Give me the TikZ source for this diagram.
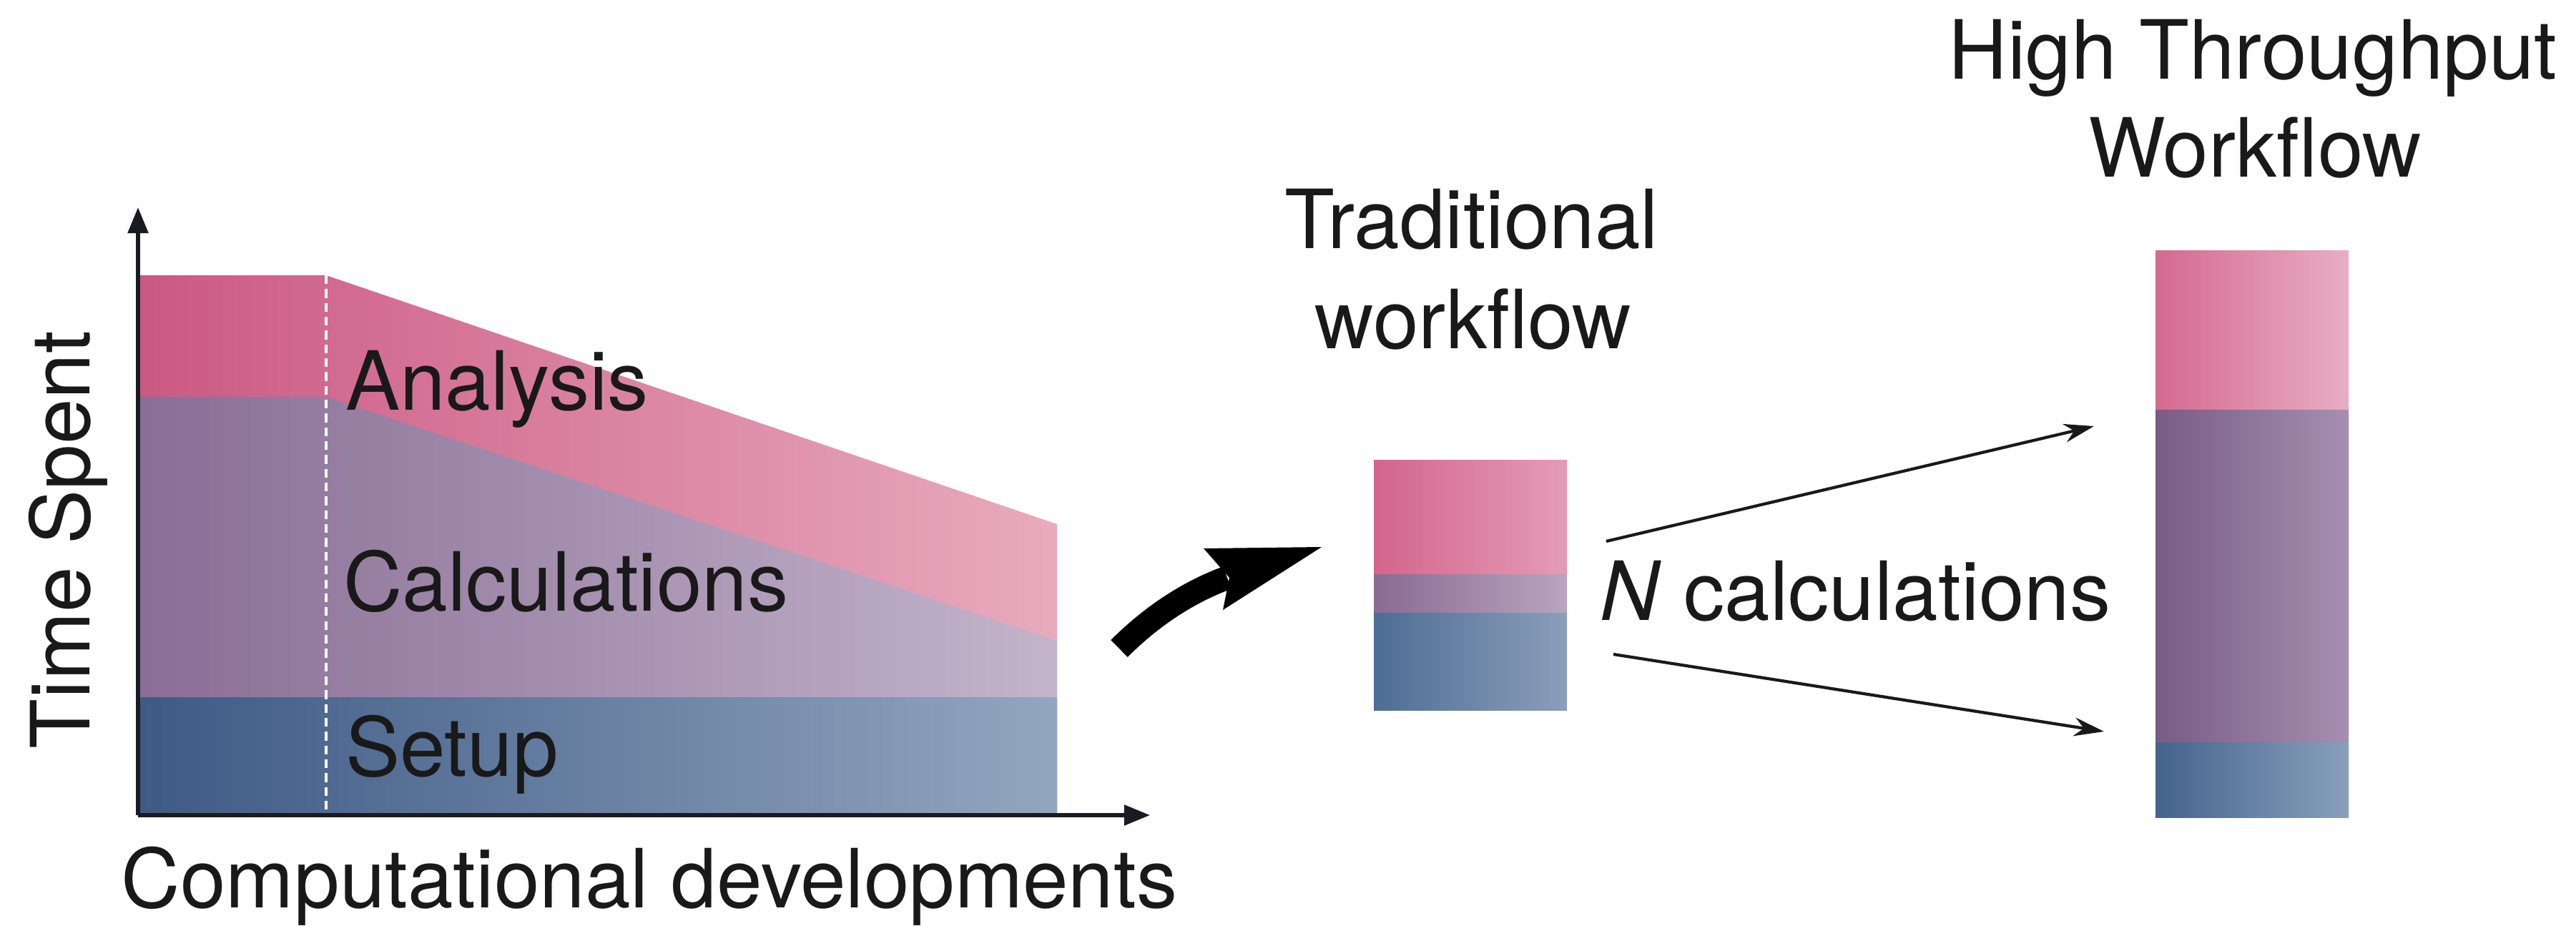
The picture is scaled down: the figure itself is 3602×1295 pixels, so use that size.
\documentclass[tikz,border=0pt]{standalone}
\usepackage{fontspec}
\setmainfont{TeX Gyre Heros}
\usetikzlibrary{arrows.meta}
\definecolor{pinkL}{HTML}{CB5982}
\definecolor{pinkR}{HTML}{E8ABBE}
\definecolor{purL}{HTML}{896E95}
\definecolor{purR}{HTML}{C3B4CB}
\definecolor{bluL}{HTML}{3E5A85}
\definecolor{bluR}{HTML}{93A6BF}
\definecolor{tpinkL}{HTML}{D3658D}
\definecolor{tpinkR}{HTML}{E49CB6}
\definecolor{tpurL}{HTML}{8A6A93}
\definecolor{tpurR}{HTML}{B8A5BF}
\definecolor{tbluL}{HTML}{4D6D95}
\definecolor{tbluR}{HTML}{8C9EBA}
\definecolor{hpinkL}{HTML}{D5698F}
\definecolor{hpinkR}{HTML}{E8AEC3}
\definecolor{hpurL}{HTML}{785C86}
\definecolor{hpurR}{HTML}{A58FAF}
\definecolor{hbluL}{HTML}{44638C}
\definecolor{hbluR}{HTML}{88A0BC}
\definecolor{axisc}{HTML}{1A1A22}
\begin{document}
\begin{tikzpicture}[x=0.01cm,y=-0.01cm,
  every node/.style={inner sep=0pt,outer sep=0pt,font=\fontsize{32.5pt}{39pt}\selectfont,text=black!90},
  axisline/.style={draw=axisc,line width=1.5pt,-{Triangle[length=0.36cm,width=0.28cm]}},
  thinarrow/.style={draw=black!90,line width=1.2pt,-{Stealth[length=0.42cm,width=0.26cm]}},
  bigarrow/.style={draw=black,line width=9.5pt},
  dashline/.style={draw=white,line width=1.4pt,dash pattern=on 3.5pt off 2pt}]
\useasboundingbox (0,0) rectangle (3602,1295);

% ---------- chart ----------
\shade[left color=pinkL,right color=pinkR] (193,385) -- (456,385) -- (1478,733) -- (1478,1138) -- (193,1138) -- cycle;
\shade[left color=purL,right color=purR] (193,555) -- (456,555) -- (1478,896) -- (1478,1138) -- (193,1138) -- cycle;
\shade[left color=bluL,right color=bluR] (193,976) rectangle (1478,1138);
\coordinate (dtop) at (456,385);
\coordinate (dbot) at (456,1136);
\draw[dashline] (dtop) -- (dbot);

\coordinate (O) at (193,1140);
\coordinate (ytip) at (193,290);
\coordinate (xtip) at (1608,1140);
\draw[axisline] (O) -- (ytip);
\draw[axisline] (O) -- (xtip);

\node[anchor=base west] (analysis) at (483,574) {Analysis};
\node[anchor=base west] (calcs) at (480,855) {Calculations};
\node[anchor=base west] (setup) at (483,1086) {Setup};
\node[anchor=base,rotate=90] (timespent) at (125,755) {Time Spent};
\node[anchor=base] (compdev) at (908,1270) {Computational developments};

% ---------- curved arrow ----------
\coordinate (ctail) at (1565,907);
\coordinate (chead) at (1716,808);
\draw[bigarrow] (ctail) .. controls (1612,860) and (1664,827) .. (chead);
\fill[black] (1683,767) -- (1848,765) -- (1710,853) -- (1719,808) -- cycle;

% ---------- traditional box ----------
\shade[left color=tpinkL,right color=tpinkR] (1921,644) rectangle (2191,804);
\shade[left color=tpurL,right color=tpurR] (1921,804) rectangle (2191,858);
\shade[left color=tbluL,right color=tbluR] (1921,858) rectangle (2191,994);
\node[anchor=base] (trad1) at (2058,348) {Traditional};
\node[anchor=base] (trad2) at (2060,488) {workflow};

% ---------- N calculations ----------
\node[anchor=base west] (ncalc) at (2237,868) {\textit{N} calculations};
\coordinate (ua) at (2246,757);
\coordinate (ub) at (2928,596);
\coordinate (la) at (2256,915);
\coordinate (lb) at (2942,1023);
\draw[thinarrow] (ua) -- (ub);
\draw[thinarrow] (la) -- (lb);

% ---------- high throughput box ----------
\shade[left color=hpinkL,right color=hpinkR] (3014,351) rectangle (3284,574);
\shade[left color=hpurL,right color=hpurR] (3014,574) rectangle (3284,1039);
\shade[left color=hbluL,right color=hbluR] (3014,1039) rectangle (3284,1144);
\node[anchor=base] (ht1) at (3150,111) {High Throughput};
\node[anchor=base] (ht2) at (3153,248) {Workflow};
\end{tikzpicture}
\end{document}
